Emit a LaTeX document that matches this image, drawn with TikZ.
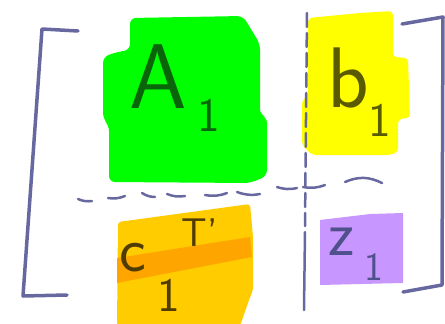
\documentclass[tikz,border=0pt]{standalone}
\usepackage{fontspec}
\usetikzlibrary{calc}
\definecolor{ink}{RGB}{104,104,160}
\definecolor{hlgreen}{RGB}{0,255,0}
\definecolor{hlyellow}{RGB}{255,255,0}
\definecolor{hlorange}{RGB}{255,204,0}
\definecolor{hlband}{RGB}{255,165,0}
\definecolor{hlpurple}{RGB}{200,150,255}
\definecolor{inkgreen}{RGB}{10,100,10}
\definecolor{inkyellow}{RGB}{90,90,0}
\definecolor{inkorange}{RGB}{80,60,0}
\definecolor{inkpurple}{RGB}{80,80,140}
\tikzset{
  pen/.style={
    draw = ink,
    line width = 3.5pt,
    line cap = round,
    line join = round
  },
  dashpen/.style={
    draw = ink,
    line width = 2.5pt,
    line cap = round
  },
  hand/.style={
    font = \sffamily\fontsize{#1}{#1}\selectfont,
    inner sep = 0pt
  }
}
\begin{document}
\begin{tikzpicture}[x=1pt,y=-1pt]
    \useasboundingbox (0,0) rectangle (445,324);
    % highlighter blobs
    \fill[hlgreen,rounded corners=6pt] (130,18) -- (243,16) -- (260,44) -- (260,115) -- (267,117)
        -- (267,176) -- (250,183) -- (109,182) -- (109,125) -- (103,119) -- (103,57)
        -- (117,52) -- (130,50) -- cycle;
    \fill[hlyellow,rounded corners=4pt] (308,18) -- (360,13) -- (393,11) -- (393,57) -- (408,58)
        -- (410,118) -- (398,119) -- (398,152) -- (390,155) -- (312,155) -- (302,145)
        -- (302,100) -- (308,96) -- cycle;
    \fill[hlorange,rounded corners=3pt] (118,222) -- (250,204) -- (253,237) -- (253,290)
        -- (249,300) -- (240,326) -- (117,326) -- cycle;
    \fill[hlband] (117,258) -- (250,237) -- (252,257) -- (117,283) -- cycle;
    \fill[hlpurple] (320,220) -- (370,214) -- (403,213) -- (403,283) -- (320,285) -- cycle;
    % brackets
    \draw[pen] (78,31) -- (42,29) -- (23,296) -- (67,295);
    \draw[pen] (402,24) -- (443,17) -- (442,285) -- (403,292);
    % partition lines
    \draw[dashpen,dash pattern=on 14pt off 6pt] (307,13) -- (305,226);
    \draw[dashpen] (305,232) -- (304,310);
    \foreach \xa/\ya/\xb/\yb in {78/199/92/201, 108/198/125/196, 142/193/155/197,
        167/194/185/196, 205/195/227/193, 237/192/260/194, 277/187/297/188,
        303/187/325/185}{
    \draw[dashpen] (\xa,\ya) to[bend right=15] (\xb,\yb);}
    \draw[dashpen] (345,182) to[bend left=25] (382,183);
    % entries
    \node[hand=92,text=inkgreen] (A) at (158,77) {A};
    \node[hand=48,text=inkgreen] (Asub) at (209,115) {1};
    \node[hand=86,text=inkyellow] (b) at (348,78) {b};
    \node[hand=48,text=inkyellow] (bsub) at (380,120) {1};
    \node[hand=64,text=inkorange] (c) at (133,258) {c};
    \node[hand=40,text=inkorange] (csup) at (200,233) {T'};
    \node[hand=48,text=inkorange] (csub) at (169,295) {1};
    \node[hand=64,text=inkpurple] (z) at (342,242) {z};
    \node[hand=40,text=inkpurple] (zsub) at (374,267) {1};
\end{tikzpicture}
\end{document}
